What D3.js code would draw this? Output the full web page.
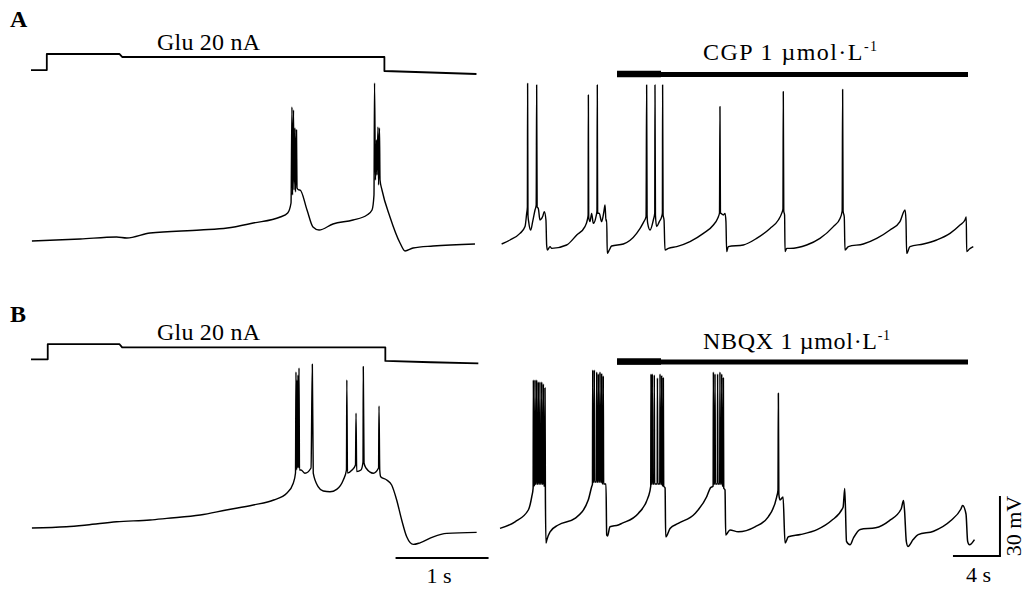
<!DOCTYPE html>
<html>
<head>
<meta charset="utf-8">
<script src="https://cdn.jsdelivr.net/npm/d3@7"></script>
<style>
  html, body { margin: 0; padding: 0; background: #fff; }
  svg { display: block; }
  text { font-family: "Liberation Serif", "Times New Roman", serif; fill: #000; }
</style>
</head>
<body>
<script>
/* global d3 */
(function() {
  'use strict';

  // ---- data: [time (s), value] ----
  // current step (nA) for the left traces
  const stepA = [[0, 1.3], [0.17, 1.3], [0.17, 22.7], [0.95, 22.7], [0.98, 18.7], [3.80, 18.7], [3.80, 0], [4.3, -2], [4.79, -4]];
  const stepB = [[0, 0.9], [0.18, 0.9], [0.18, 21.3], [0.95, 21.3], [0.98, 16.9], [3.81, 16.9], [3.81, -1.3], [4.3, -3], [4.81, -4.4]];

  // membrane potential (mV), panel A, Glu application
  const vmA1 = [
    [0.01, -65], [0.53, -64], [0.92, -63], [1.03, -63.5], [1.28, -61], [1.82, -59.5], [2.11, -58.5], [2.39, -56],
    [2.68, -53], [2.76, -51], [2.796, -46],
    [2.806, 2], [2.812, -42], [2.823, 0.5], [2.828, -39.5], [2.839, -8.5], [2.844, -40.5], [2.855, -9.5], [2.860, -38.5],
    [2.882, -39.5], [2.892, -39.5], [2.968, -49.5], [3.032, -58], [3.097, -59.5], [3.247, -56.5], [3.462, -54.5],
    [3.613, -52], [3.667, -49.5], [3.688, -42],
    [3.694, 14], [3.704, -34.5], [3.715, -14.5], [3.720, -32], [3.731, -8], [3.737, -37], [3.747, -8.5], [3.753, -34.5],
    [3.774, -39.5], [3.860, -53], [3.968, -66], [4.022, -70], [4.108, -68.5], [4.323, -67.5], [4.774, -66.5]
  ];

  // panel A, spontaneous firing before / during CGP
  const vmA2 = [
    [0.14, -66.5], [0.85, -64.5], [1.70, -61.2], [2.13, -57.8], [2.27, -51.2], [2.33, -48], [2.35, 13.8], [2.38, -52],
    [2.44, -55.3], [2.61, -59.5], [2.78, -55.3], [2.98, -49.5], [3.08, -47], [3.12, 13], [3.16, -48], [3.26, -48.7],
    [3.40, -54.5], [3.63, -52.8], [3.77, -50.3], [3.91, -54.5], [3.97, -67], [4.03, -69.5], [4.26, -67.8],
    [4.40, -68.7], [5.67, -67], [6.53, -62], [7.23, -57.8], [7.43, -54.5], [7.50, -52], [7.52, 8], [7.55, -53],
    [7.66, -55.3], [7.80, -51.2], [7.94, -56.2], [8.17, -52.8], [8.25, -50], [8.28, 13], [8.31, -51], [8.45, -51.2],
    [8.65, -55.3], [8.85, -50], [8.94, -47], [9.02, -55], [9.08, -54.5], [9.13, -71.2], [9.30, -69.5], [9.50, -67.5],
    [10.50, -66.5], [11.63, -61.2], [12.20, -55.8], [12.43, -52.8], [12.48, 13], [12.52, -52], [12.57, -56.2],
    [12.77, -59.5], [13.05, -54.5], [13.17, -51], [13.19, 13], [13.23, -52], [13.33, -57.8], [13.56, -55.3],
    [13.76, -52.8], [13.82, -51], [13.84, 13], [13.88, -52], [13.96, -54.5], [14.04, -69.5], [14.33, -68.7],
    [15.04, -67.8], [16.17, -65.3], [17.31, -61.2], [18.16, -57], [18.52, -53.7], [18.68, -51], [18.72, 2.2],
    [18.76, -51], [18.81, -51.2], [19.01, -52], [19.15, -51.2], [19.23, -55.3], [19.29, -70.3], [19.43, -67.8],
    [20.71, -67], [21.84, -63.7], [22.98, -58.7], [23.69, -54.5], [23.97, -51.2], [24.08, -49], [24.11, 9.7],
    [24.15, -50], [24.22, -52], [24.26, -70.3], [24.40, -68.7],
    [24.68, -68.7], [26.10, -67], [27.23, -63.7], [28.37, -57.8], [28.94, -53.7], [29.12, -50], [29.16, 10.8],
    [29.20, -50], [29.30, -53], [29.36, -69.5], [29.65, -67.8],
    [30.92, -66.5], [32.06, -63.7], [33.19, -59.5], [34.04, -55.3], [34.47, -49.5], [34.55, -54.5], [34.61, -71.2],
    [34.89, -67.8],
    [36.03, -66.5], [37.16, -64.5], [38.30, -61.2], [39.15, -57], [39.57, -54.5], [39.68, -53], [39.72, -70.3],
    [39.95, -69], [40.28, -67.8]
  ];

  // panel B, Glu application
  const vmB1 = [
    [0.01, -65], [0.38, -64.4], [0.60, -63.5], [0.92, -61.9], [1.28, -61], [1.46, -60.2], [1.82, -58.5], [2.10, -56],
    [2.39, -53.5], [2.61, -51], [2.75, -47.6], [2.82, -42.6], [2.844, -37.5],
    [2.849, 13], [2.855, -36], [2.860, 9], [2.866, -35], [2.871, 11.5], [2.876, -35], [2.882, 15], [2.887, -36],
    [2.903, -36], [2.946, -37.6], [3.011, -35], [3.025, 16.9], [3.035, -37.6], [3.089, -44.4], [3.143, -46.5],
    [3.215, -46.9], [3.287, -45.7], [3.358, -41], [3.392, -36], [3.396, 9], [3.403, -37.5], [3.452, -36],
    [3.489, -33.5], [3.495, -7.6], [3.502, -36.8], [3.548, -36], [3.570, -32], [3.573, 15.7], [3.581, -32.5],
    [3.602, -35], [3.681, -37.6], [3.737, -35], [3.742, -4], [3.750, -36], [3.760, -39.4], [3.825, -41],
    [3.878, -43.5], [3.932, -51], [3.986, -61], [4.040, -69.4], [4.111, -73.2], [4.183, -72.4], [4.326, -69.4],
    [4.470, -67.7], [4.792, -67.2]
  ];

  // panel B, spontaneous bursts before / during NBQX
  const vmB2 = [
    [0, -65.2], [1.28, -61.9], [2.41, -56], [2.70, -49.4], [2.82, -45], [2.84, 9], [2.87, -44], [2.96, -43], [2.98, 9],
    [3.01, -43], [3.10, -43], [3.12, 9], [3.15, -43], [3.24, -43], [3.26, 8], [3.29, -43], [3.38, -43], [3.40, 8],
    [3.43, -43], [3.53, -43], [3.55, 8], [3.58, -43], [3.67, -43], [3.69, 7], [3.72, -44], [3.81, -44], [3.83, 5],
    [3.86, -45], [3.91, -72.5], [3.98, -71], [4.26, -66.9],
    [4.96, -63.5], [6.38, -60.2], [7.51, -51], [7.80, -44.4], [7.87, -43], [7.89, 14], [7.92, -42], [8.01, -42],
    [8.03, 14], [8.06, -42], [8.21, -42], [8.23, 13], [8.26, -42], [8.35, -42], [8.37, 12], [8.40, -42], [8.49, -42],
    [8.51, 13], [8.54, -42], [8.63, -42], [8.65, 12], [8.68, -42], [8.77, -43], [8.79, 11], [8.82, -43], [9.02, -43],
    [9.08, -68.5], [9.15, -69], [9.36, -64.4], [10.07, -63.5],
    [10.36, -62.7], [11.77, -57.7], [12.62, -49.4], [12.83, -44], [12.85, 12], [12.88, -43], [12.94, -43], [12.96, 12],
    [12.99, -43], [13.11, -43], [13.13, 11.5], [13.16, -43], [13.38, -43], [13.40, 10], [13.43, -43], [13.60, -43],
    [13.62, 12], [13.65, -43], [13.74, -43], [13.76, 11], [13.79, -43], [13.88, -44], [13.90, 10], [13.93, -44],
    [14.05, -45], [14.10, -69.4], [14.18, -69], [14.47, -65.2],
    [15.17, -62.7], [16.60, -57.7], [17.59, -49.4], [17.90, -45], [18.14, -44], [18.16, 13], [18.19, -43], [18.28, -43],
    [18.30, 12], [18.33, -43], [18.50, -43], [18.52, 12], [18.55, -43], [18.70, -43], [18.72, 13], [18.75, -43],
    [18.85, -43], [18.87, 12], [18.90, -44], [18.99, -44], [19.01, 10], [19.04, -45], [19.15, -46], [19.21, -68.5],
    [19.30, -68], [19.57, -66],
    [20.28, -66.9], [21.70, -64.4], [22.83, -59.4], [23.55, -49.4], [23.66, -46], [23.69, 2.4], [23.73, -48],
    [23.83, -51], [24.09, -49.5], [24.26, -72.5], [24.54, -69.4],
    [25.57, -68.3], [27.03, -65.7], [28.19, -61.4], [29.20, -54.6], [29.34, -45.2], [29.49, -71.7], [29.79, -73.4],
    [30.08, -70],
    [30.66, -65.7], [31.97, -64.9], [33.12, -61.4], [34.14, -55.5], [34.34, -51.2], [34.43, -56.3], [34.58, -71.7],
    [34.72, -74.2], [35.16, -70.8],
    [35.59, -68.3], [36.90, -66.6], [38.35, -61.4], [39.23, -55.5], [39.37, -53.8], [39.66, -58], [39.80, -71.7],
    [39.95, -73.4], [40.38, -70.8]
  ];

  const panelLabels = ['A', 'B'];
  const stimLabel = 'Glu 20 nA';
  const drugNames = ['CGP', 'NBQX'];
  const drugWindow = [9.96, 39.83];   // s, drug application in the right traces
  const timeBarLeft = [3.92, 4.92];   // 1 s
  const timeBarRight = [38.55, 42.55]; // 4 s
  const voltBar = [-79, -49];          // 30 mV

  const w = 1025;
  const h = 589;

  // scales: 93 px per s on the left, 11.75 px per s on the right, 2 px per mV
  const xLeft = d3.scaleLinear().domain([0, 1]).range([31, 124]);
  const xRight = d3.scaleLinear().domain([0, 4]).range([500, 547]);
  const vA = d3.scaleLinear().domain([-65, -35]).range([241, 181]);
  const vB = d3.scaleLinear().domain([-65, -35]).range([528, 468]);
  const iA = d3.scaleLinear().domain([0, 20]).range([71, 56]);
  const iB = d3.scaleLinear().domain([0, 20]).range([360, 345]);

  const svg = d3.select('body')
    .append('svg')
    .attr('width', w)
    .attr('height', h);

  svg.append('rect').attr('width', w).attr('height', h).attr('fill', '#fff');

  function trace(data, x, y, width, curve) {
    const line = d3.line()
      .x((d) => x(d[0]))
      .y((d) => y(d[1]))
      .curve(curve);
    svg.append('path')
      .datum(data)
      .attr('d', line)
      .attr('fill', 'none')
      .attr('stroke', '#000')
      .attr('stroke-width', width)
      .attr('stroke-linejoin', 'round');
  }

  // stimulus steps
  trace(stepA, xLeft, iA, 1.8, d3.curveLinear);
  trace(stepB, xLeft, iB, 1.8, d3.curveLinear);

  // membrane potential traces
  trace(vmA1, xLeft, vA, 1.4, d3.curveMonotoneX);
  trace(vmA2, xRight, vA, 1.4, d3.curveMonotoneX);
  trace(vmB1, xLeft, vB, 1.4, d3.curveMonotoneX);
  trace(vmB2, xRight, vB, 1.5, d3.curveMonotoneX);

  // drug application bars
  const barY = [74.5, 362];
  barY.forEach((y, k) => {
    svg.append('line')
      .attr('x1', xRight(drugWindow[0])).attr('x2', xRight(drugWindow[1]))
      .attr('y1', y).attr('y2', y)
      .attr('stroke', '#000').attr('stroke-width', 5);
    svg.append('line')
      .attr('x1', xRight(drugWindow[0])).attr('x2', xRight(drugWindow[0]) + 44)
      .attr('y1', y - 0.5).attr('y2', y - 0.5)
      .attr('stroke', '#000').attr('stroke-width', 6.5);

    const t = svg.append('text')
      .attr('x', 703)
      .attr('y', k === 0 ? 60 : 349)
      .attr('font-size', 24)
      .attr('textLength', k === 0 ? 174 : 187)
      .attr('lengthAdjust', 'spacing');
    t.append('tspan').text(drugNames[k] + ' 1 \u00b5mol\u00b7L');
    t.append('tspan').attr('dy', -9).attr('font-size', 14).text('-1');
  });

  // stimulus labels
  [50, 340].forEach((y) => {
    svg.append('text')
      .attr('x', 157).attr('y', y)
      .attr('font-size', 24)
      .attr('textLength', 103)
      .attr('lengthAdjust', 'spacing')
      .text(stimLabel);
  });

  // panel letters
  [27, 322].forEach((y, k) => {
    svg.append('text')
      .attr('x', 10).attr('y', y)
      .attr('font-size', 24)
      .attr('font-weight', 'bold')
      .text(panelLabels[k]);
  });

  // scale bars
  const bars = svg.append('g').attr('stroke', '#000').attr('stroke-width', 2);
  bars.append('line')
    .attr('x1', xLeft(timeBarLeft[0])).attr('x2', xLeft(timeBarLeft[1]))
    .attr('y1', 558).attr('y2', 558);
  bars.append('line')
    .attr('x1', xRight(timeBarRight[0])).attr('x2', xRight(timeBarRight[1]) + 1)
    .attr('y1', vB(voltBar[0])).attr('y2', vB(voltBar[0]));
  bars.append('line')
    .attr('x1', xRight(timeBarRight[1])).attr('x2', xRight(timeBarRight[1]))
    .attr('y1', vB(voltBar[0])).attr('y2', vB(voltBar[1]));

  svg.append('text')
    .attr('x', xLeft((timeBarLeft[0] + timeBarLeft[1]) / 2) - 3)
    .attr('y', 583)
    .attr('font-size', 22)
    .attr('text-anchor', 'middle')
    .text('1 s');
  svg.append('text')
    .attr('x', xRight((timeBarRight[0] + timeBarRight[1]) / 2) + 2)
    .attr('y', 582)
    .attr('font-size', 22)
    .attr('text-anchor', 'middle')
    .text('4 s');
  svg.append('text')
    .attr('transform', 'translate(1021,' + vB((voltBar[0] + voltBar[1]) / 2) + ') rotate(-90)')
    .attr('font-size', 22)
    .attr('text-anchor', 'middle')
    .text('30 mV');
}());
</script>
</body>
</html>
